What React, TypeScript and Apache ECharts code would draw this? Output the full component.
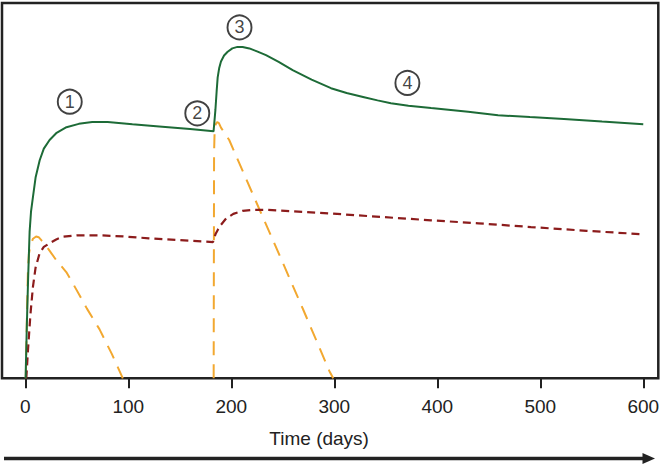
import React, { useEffect, useRef } from "react";
import * as echarts from "echarts";

// Tick labels (days)
const tickDays = [0, 100, 200, 300, 400, 500, 600];

// Solid green curve: [day, level]
const greenLine: [number, number][] = [
  [0.3, 0], [1.5, 14], [2.8, 27], [4.2, 39], [5.6, 44.5], [7.3, 48], [10, 53.5],
  [14, 58.1], [18, 61.2], [23.6, 63.5], [30, 65.3], [40, 66.9], [52, 67.8],
  [65, 68.3], [80, 68.3], [104, 67.7], [130, 67.1], [160, 66.4], [182.8, 65.8],
  [183.5, 68], [184.6, 71.5], [185.8, 76.5], [186.8, 80.2], [188.3, 82.7],
  [190, 84.4], [193, 86], [196.5, 87], [201, 87.9], [206, 88.3], [211, 88.3],
  [217.6, 87.9], [225, 87.1], [233.7, 86.1], [246, 84.3], [259.6, 82.1],
  [278, 79.6], [296.8, 77.3], [312, 76], [329, 74.9], [342, 74.05], [355, 73.3],
  [372, 72.65], [394, 72], [430, 71], [459, 70.1], [490, 69.6], [523, 69.1],
  [560, 68.4], [600, 67.7],
];

// Dark red dashed curve
const redLine: [number, number][] = [
  [1, 0], [2.5, 7], [3.5, 11], [5, 17], [7.4, 24.3], [10, 29.5], [13.9, 33.3],
  [18, 35], [23.6, 36], [30, 37], [36.2, 37.7], [50, 38.1], [72, 38.1],
  [95, 37.8], [120, 37.3], [150, 36.8], [182.3, 36.3], [183.5, 37.5],
  [185, 38.6], [187, 39.6], [190, 40.9], [195, 42.6], [202, 43.8], [211, 44.6],
  [222, 44.9], [234, 44.9], [260, 44.5], [297, 43.9], [345, 43], [394, 42.1],
  [440, 41.3], [491, 40.3], [545, 39.3], [598, 38.4],
];

// Orange dashed curves (two doses)
const orangeLine1: [number, number][] = [
  [0.5, 0], [1.5, 15], [2.5, 28], [3.5, 33], [5, 35.5], [7.5, 37.2],
  [10.5, 37.8], [13, 37.6], [16, 36.7], [18.7, 35.9], [30, 31.5], [39.8, 28.3],
  [46.2, 25.3], [60, 18.5], [72, 13.1], [84, 6.5], [94.7, 0],
];
const orangeLine2: [number, number][] = [
  [182.9, 0], [183.1, 30], [183.3, 60], [183.8, 65.5], [184.8, 67.6],
  [186.3, 68.3], [188, 68], [190, 66.8], [198, 63.5], [220.5, 49.3],
  [240, 37.1], [270, 18.2], [295.3, 1.9], [299, 0],
];

// Numbered annotations
const markerLabels = ["1", "2", "3", "4"];
const markerPos: [number, number][] = [
  [43.2, 73.7], [167, 70.6], [208, 93.5], [371, 78.7],
];

const FONT = "'Liberation Sans', Arial, Helvetica, sans-serif";

export default function App() {
  const ref = useRef<HTMLDivElement>(null);
  useEffect(() => {
    if (!ref.current) return;
    const chart = echarts.init(ref.current, undefined, { renderer: "svg" });
    const orange = "#f2a830";
    const red = "#8c1c1c";
    const green = "#1d6b37";
    chart.setOption({
      animation: false,
      backgroundColor: "#ffffff",
      grid: {
        left: 2,
        right: 5.7,
        top: 3,
        bottom: 85.7,
        show: true,
        borderColor: "#222",
        borderWidth: 2.5,
        containLabel: false,
      },
      xAxis: {
        type: "value",
        min: -22.6,
        max: 614.6,
        name: "Time (days)",
        nameLocation: "middle",
        nameGap: 51,
        nameTextStyle: {
          fontSize: 19,
          color: "#222",
          fontFamily: FONT,
          padding: [0, 22, 0, 0],
        },
        axisLine: { show: false },
        splitLine: { show: false },
        axisTick: {
          show: true,
          inside: false,
          length: 10,
          customValues: tickDays,
          lineStyle: { color: "#222", width: 2 },
        },
        axisLabel: {
          show: true,
          customValues: tickDays,
          fontSize: 19,
          color: "#222",
          margin: 19,
          fontFamily: FONT,
        },
      },
      yAxis: {
        type: "value",
        min: 0,
        max: 100,
        show: false,
        splitLine: { show: false },
      },
      series: [
        {
          type: "line",
          data: orangeLine1,
          showSymbol: false,
          lineStyle: { color: orange, width: 2, type: [14, 9] },
          z: 2,
        },
        {
          type: "line",
          data: orangeLine2,
          showSymbol: false,
          lineStyle: { color: orange, width: 2, type: [14, 9] },
          z: 2,
        },
        {
          type: "line",
          data: redLine,
          showSymbol: false,
          lineStyle: { color: red, width: 2.2, type: [8, 5] },
          z: 3,
        },
        {
          type: "line",
          data: greenLine,
          showSymbol: false,
          lineStyle: { color: green, width: 2 },
          z: 4,
        },
        {
          type: "scatter",
          data: markerPos.map((p, i) => ({ value: p, name: markerLabels[i] })),
          symbol: "circle",
          symbolSize: 24,
          itemStyle: { color: "#ffffff", borderColor: "#111", borderWidth: 1.9 },
          label: {
            show: true,
            position: "inside",
            formatter: (p: any) => p.name,
            fontSize: 18,
            color: "#111",
            fontFamily: FONT,
          },
          z: 5,
        },
      ],
      graphic: [
        {
          type: "line",
          shape: { x1: 4, y1: 458.5, x2: 645, y2: 458.5 },
          style: { stroke: "#222", lineWidth: 3.5 },
        },
        {
          type: "polygon",
          shape: { points: [[642.5, 453], [655, 458.5], [642.5, 464]] },
          style: { fill: "#222" },
        },
      ],
    });
    return () => chart.dispose();
  }, []);
  return (
    <div
      ref={ref}
      style={{ position: "absolute", left: 0, top: 0, width: 664, height: 464 }}
    />
  );
}
